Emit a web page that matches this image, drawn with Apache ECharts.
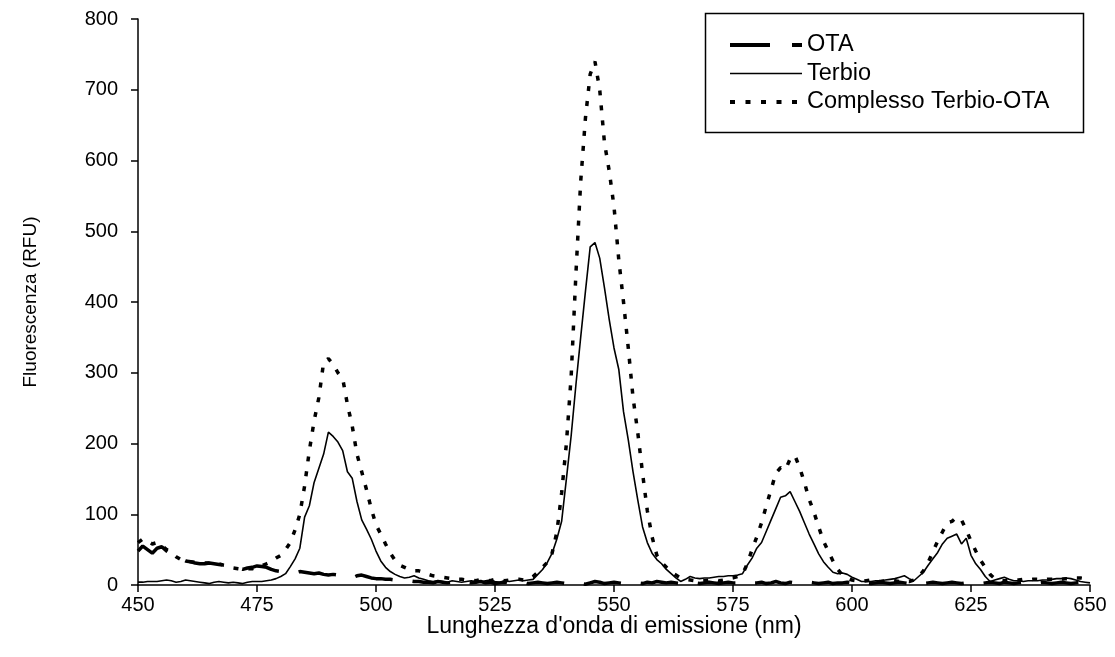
<!DOCTYPE html>
<html>
<head>
<meta charset="utf-8">
<script src="https://cdn.jsdelivr.net/npm/echarts@6/dist/echarts.min.js"></script>
<style>
html,body{margin:0;padding:0;background:#fff;}
#chart{width:1115px;height:657px;}
</style>
</head>
<body>
<div id="chart"></div>
<script>
// Wavelengths (nm)
const wavelengths = [
450,451,452,453,454,455,456,457,458,459,
460,461,462,463,464,465,466,467,468,469,
470,471,472,473,474,475,476,477,478,479,
480,481,482,483,484,485,486,487,488,489,
490,491,492,493,494,495,496,497,498,499,
500,501,502,503,504,505,506,507,508,509,
510,511,512,513,514,515,516,517,518,519,
520,521,522,523,524,525,526,527,528,529,
530,531,532,533,534,535,536,537,538,539,
540,541,542,543,544,545,546,547,548,549,
550,551,552,553,554,555,556,557,558,559,
560,561,562,563,564,565,566,567,568,569,
570,571,572,573,574,575,576,577,578,579,
580,581,582,583,584,585,586,587,588,589,
590,591,592,593,594,595,596,597,598,599,
600,601,602,603,604,605,606,607,608,609,
610,611,612,613,614,615,616,617,618,619,
620,621,622,623,624,625,626,627,628,629,
630,631,632,633,634,635,636,637,638,639,
640,641,642,643,644,645,646,647,648,649,
650];

const otaValues = [
48,55,50,45,52,54,48,44,40,37,
34,33,31,30,30,31,30,29,28,26,
25,24,22,24,25,27,26,25,22,20,
19,18,18,17,19,18,17,16,17,15,
14,15,14,12,11,10,13,14,12,10,
9,9,8,8,7,7,6,6,5,5,
4,4,3,5,4,3,4,5,3,4,
3,4,5,3,4,2,3,4,3,2,
3,4,2,3,4,3,2,3,4,3,
2,3,4,2,1,3,5,4,2,3,
4,3,2,3,4,3,2,4,3,5,
4,3,4,3,2,3,4,3,2,3,
4,3,2,3,4,3,3,2,4,3,
3,4,2,3,5,3,2,4,3,2,
3,4,3,2,3,4,2,3,3,4,
3,2,4,3,2,3,4,3,2,3,
4,3,2,3,4,2,3,4,3,2,
3,4,3,2,3,4,3,2,3,4,
3,2,4,3,2,3,4,3,2,3,
4,3,2,3,4,3,2,3,4,3,
2];

const terbioValues = [
4,4,5,5,5,6,7,6,4,5,
7,6,5,4,3,2,4,5,4,3,
4,3,2,4,5,5,5,6,7,9,
12,16,26,37,52,96,112,145,165,185,
216,210,202,190,160,151,118,92,79,65,
48,34,25,19,15,12,10,11,13,10,
8,6,5,6,5,4,6,5,4,5,
6,5,4,6,7,5,4,6,5,6,
7,6,7,8,15,22,32,45,65,90,
150,211,283,350,415,478,484,462,420,375,
335,305,245,205,160,120,82,60,45,36,
30,22,16,10,5,8,12,10,9,10,
10,11,12,12,13,13,14,16,28,38,
52,60,76,92,108,124,126,132,118,104,
88,72,58,44,33,25,18,16,17,15,
11,8,5,5,5,6,6,7,8,9,
11,13,9,6,12,18,28,37,46,58,
66,69,72,58,66,42,30,22,12,5,
7,9,11,8,6,6,5,6,6,6,
7,7,8,9,9,10,9,7,5,4,
3];

const complessoValues = [
60,65,62,58,60,56,50,46,40,36,
34,33,32,32,31,31,32,30,28,27,
24,23,22,23,23,25,27,30,33,38,
42,50,60,78,100,140,190,232,265,315,
320,312,300,292,255,225,185,160,135,108,
85,72,58,45,35,28,25,22,20,20,
18,15,13,12,11,10,9,8,8,7,
7,6,8,7,6,8,7,6,7,8,
8,7,8,12,18,25,32,45,75,130,
200,295,440,570,660,722,740,700,625,585,
535,460,400,335,265,215,158,105,68,42,
32,25,18,14,10,8,7,6,5,6,
7,8,6,7,9,10,12,15,30,50,
68,88,112,135,158,166,163,178,183,166,
145,121,103,82,62,48,34,22,14,10,
7,6,5,6,7,6,5,6,7,6,
5,6,5,7,12,20,32,47,62,75,
88,90,96,92,78,62,48,35,25,15,
9,7,6,6,7,7,8,7,8,8,
7,8,8,7,8,9,9,10,10,9,
8];

const seriesNames = ['OTA', 'Terbio', 'Complesso Terbio-OTA'];
const xTickValues = [450, 475, 500, 525, 550, 575, 600, 625, 650];
const yTickValues = [0, 100, 200, 300, 400, 500, 600, 700, 800];

function pairs(vals) { return wavelengths.map((w, i) => [w, vals[i]]); }

const FONT = '"Liberation Sans", Arial, sans-serif';
const otaLine = {color: '#000', width: 3.5, type: [38, 20]};
const terbioLine = {color: '#000', width: 1.6, type: 'solid'};
const complessoLine = {color: '#000', width: 3.5, type: [5, 10]};

const chart = echarts.init(document.getElementById('chart'), null, {renderer: 'canvas'});
chart.setOption({
  animation: false,
  backgroundColor: '#ffffff',
  grid: {left: 138, right: 25, top: 19, bottom: 72, containLabel: false},
  xAxis: {
    type: 'value', min: xTickValues[0], max: xTickValues[xTickValues.length - 1], interval: 25,
    name: "Lunghezza d'onda di emissione (nm)", nameLocation: 'middle', nameGap: 30,
    nameMoveOverlap: false,
    nameTextStyle: {fontFamily: FONT, fontSize: 23, color: '#000'},
    axisLine: {onZero: false, lineStyle: {color: '#000', width: 1.5}},
    axisTick: {inside: false, length: 7, lineStyle: {color: '#000', width: 1.5}},
    axisLabel: {fontFamily: FONT, fontSize: 20, color: '#000', margin: 10},
    splitLine: {show: false}
  },
  yAxis: {
    type: 'value', min: yTickValues[0], max: yTickValues[yTickValues.length - 1], interval: 100,
    name: 'Fluorescenza (RFU)', nameLocation: 'middle', nameGap: 98,
    nameMoveOverlap: false,
    nameTextStyle: {fontFamily: FONT, fontSize: 19, color: '#000'},
    axisLine: {show: true, lineStyle: {color: '#000', width: 1.5}},
    axisTick: {show: true, inside: false, length: 7, lineStyle: {color: '#000', width: 1.5}},
    axisLabel: {fontFamily: FONT, fontSize: 20, color: '#000', margin: 20},
    splitLine: {show: false}
  },
  legend: {
    orient: 'vertical', left: 728, top: 33, padding: 0,
    itemWidth: 72, itemHeight: 14, itemGap: 4.5,
    itemStyle: {opacity: 0, borderWidth: 0},
    textStyle: {fontFamily: FONT, fontSize: 23.5, lineHeight: 23, color: '#000', padding: [0, 0, 0, 0]},
    data: [
      {name: seriesNames[0], lineStyle: {width: 4, type: [40, 22], color: '#000'}},
      {name: seriesNames[1], lineStyle: {width: 1.6, type: 'solid', color: '#000'}},
      {name: seriesNames[2], lineStyle: {width: 4, type: [5, 10.5], color: '#000'}}
    ]
  },
  graphic: [{
    type: 'rect', left: 703, top: 11, z: 0,
    shape: {width: 378, height: 119},
    style: {fill: 'none', stroke: '#000', lineWidth: 1.5}
  }],
  series: [
    {name: seriesNames[0], type: 'line', data: pairs(otaValues), showSymbol: false, symbol: 'none',
     lineStyle: otaLine, itemStyle: {color: '#000'}, z: 2},
    {name: seriesNames[1], type: 'line', data: pairs(terbioValues), showSymbol: false, symbol: 'none',
     lineStyle: terbioLine, itemStyle: {color: '#000'}, z: 3},
    {name: seriesNames[2], type: 'line', data: pairs(complessoValues), showSymbol: false, symbol: 'none',
     lineStyle: complessoLine, itemStyle: {color: '#000'}, z: 4}
  ]
});
</script>
</body>
</html>
